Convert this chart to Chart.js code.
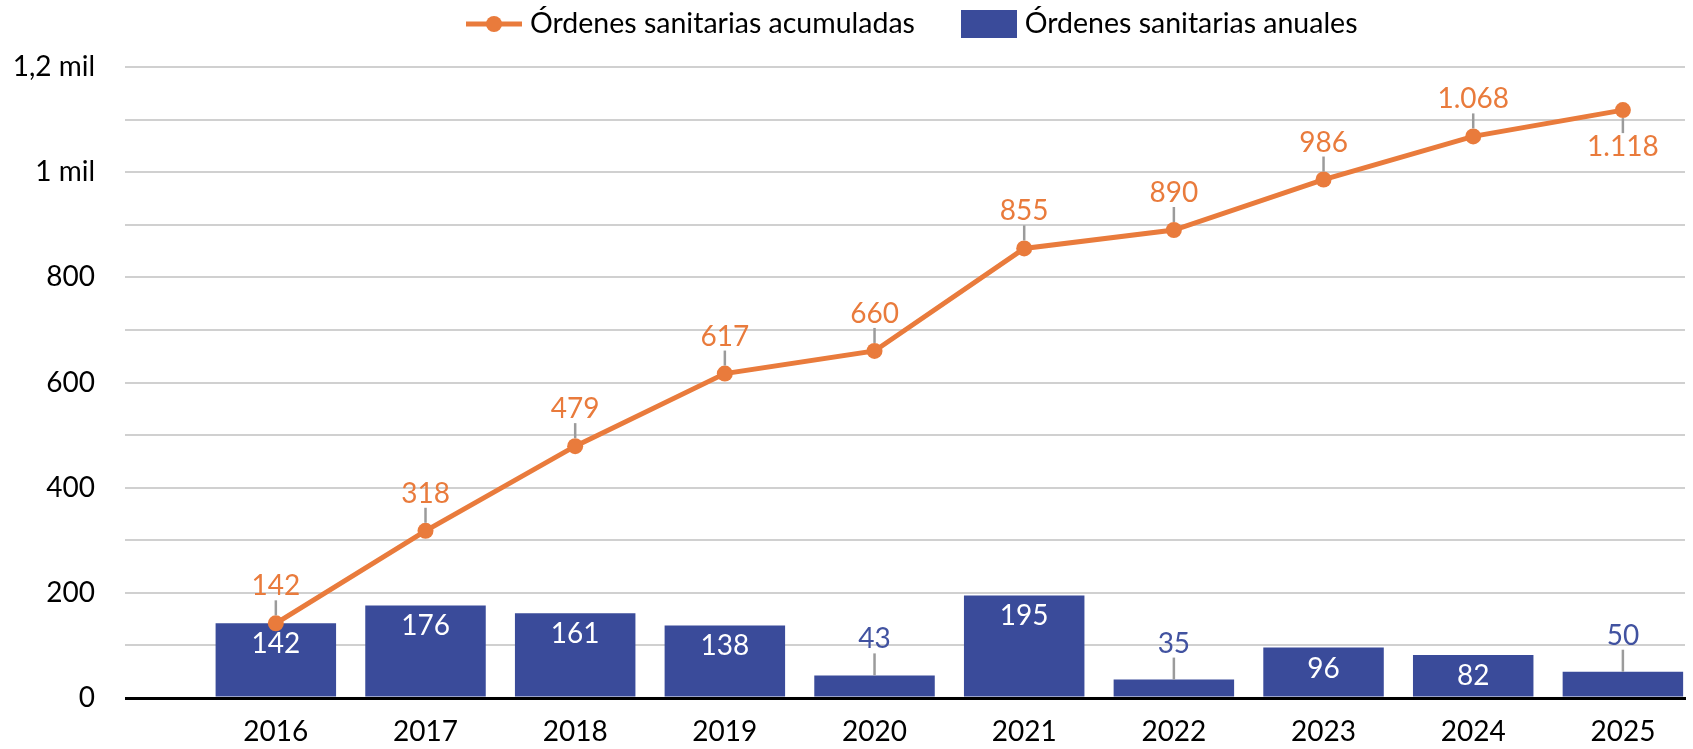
<!DOCTYPE html>
<html lang="es">
<head>
<meta charset="utf-8">
<title>Órdenes sanitarias</title>
<script src="https://cdn.jsdelivr.net/npm/chart.js@4.4.1/dist/chart.umd.min.js"></script>
<style>
  html, body { margin: 0; padding: 0; background: #fff; overflow: hidden; }
  canvas { display: block; }
</style>
</head>
<body>
<canvas id="chart" width="1693" height="749"></canvas>
<script>
'use strict';

// datos
const years = ['2016', '2017', '2018', '2019', '2020', '2021', '2022', '2023', '2024', '2025'];
const anuales = [142, 176, 161, 138, 43, 195, 35, 96, 82, 50];
const acumuladas = [142, 318, 479, 617, 660, 855, 890, 986, 1068, 1118];
const yTickValues = [0, 200, 400, 600, 800, 1000, 1200];
const yTickLabels = ['0', '200', '400', '600', '800', '1 mil', '1,2 mil'];

const naranja = '#E97B3C';
const azul = '#3A4B9A';
const guia = '#9B9B9B';

Chart.defaults.font.family = 'Lato';
Chart.defaults.font.size = 28;

// 1068 -> "1.068"
function fmt(n) {
  return String(n).replace(/\B(?=(\d{3})+(?!\d))/g, '.');
}

// little images for the legend keys
function lineKey() {
  let c = document.createElement('canvas');
  c.width = 56; c.height = 18;
  let g = c.getContext('2d');
  g.strokeStyle = naranja; g.lineWidth = 5;
  g.beginPath(); g.moveTo(0, 9); g.lineTo(56, 9); g.stroke();
  g.fillStyle = naranja;
  g.beginPath(); g.arc(28, 9, 8, 0, Math.PI * 2); g.fill();
  return c;
}
function barKey() {
  let c = document.createElement('canvas');
  c.width = 56; c.height = 28;
  let g = c.getContext('2d');
  g.fillStyle = azul;
  g.fillRect(0, 0, 56, 28);
  return c;
}

// legend: key box narrower than the 56px image, image centred in it
const legFont = 28.5;
const legPad = 52;
const keyBox = 72 - legFont;

const ajustes = {
  id: 'ajustes',
  beforeInit(chart) {
    const fit = chart.legend.fit;
    chart.legend.fit = function() {
      fit.call(this);
      this.height = 67;
    };
  },
  afterLayout(chart) {
    chart.legend.left = 466 + (56 - keyBox) / 2 - legPad;
    chart.legend.top = 24 - legFont / 2 - legPad;
  }
};

// value labels with the small grey leader lines
const etiquetas = {
  id: 'etiquetas',
  afterDatasetsDraw(chart) {
    const ctx = chart.ctx;
    ctx.save();
    ctx.font = '28px Lato';
    ctx.textAlign = 'center';
    ctx.textBaseline = 'middle';
    ctx.lineWidth = 2.5;
    ctx.strokeStyle = guia;

    function leader(x, y1, y2) {
      ctx.beginPath();
      ctx.moveTo(x, y1);
      ctx.lineTo(x, y2);
      ctx.stroke();
    }

    let lineMeta = chart.getDatasetMeta(0);
    lineMeta.data.forEach(function(pt, i) {
      let dir = i === lineMeta.data.length - 1 ? 1 : -1;
      leader(pt.x, pt.y + dir * 8, pt.y + dir * 23);
      ctx.fillStyle = naranja;
      ctx.fillText(fmt(acumuladas[i]), pt.x, pt.y + dir * 37);
    });

    let barMeta = chart.getDatasetMeta(1);
    barMeta.data.forEach(function(bar, i) {
      let h = bar.base - bar.y;
      if (h > 35) {
        ctx.fillStyle = '#fff';
        ctx.fillText(fmt(anuales[i]), bar.x, bar.y + 21);
      } else {
        leader(bar.x, bar.y, bar.y - 22);
        ctx.fillStyle = '#4152A0';
        ctx.fillText(fmt(anuales[i]), bar.x, bar.y - 36);
      }
    });
    ctx.restore();
  }
};

function isZero(c) {
  return c.tick && c.tick.value === 0;
}

new Chart(document.getElementById('chart'), {
  type: 'bar',
  data: {
    labels: years,
    datasets: [
      {
        type: 'line',
        label: 'Órdenes sanitarias acumuladas',
        data: acumuladas,
        borderColor: naranja,
        backgroundColor: naranja,
        borderWidth: 5,
        pointRadius: 8,
        pointBackgroundColor: naranja,
        pointBorderWidth: 0,
        tension: 0,
        order: 0
      },
      {
        label: 'Órdenes sanitarias anuales',
        data: anuales,
        backgroundColor: azul,
        barPercentage: 0.805,
        categoryPercentage: 1,
        order: 1
      }
    ]
  },
  options: {
    responsive: false,
    animation: false,
    events: [],
    layout: { padding: 0 },
    plugins: {
      tooltip: { enabled: false },
      legend: {
        position: 'top',
        align: 'start',
        labels: {
          color: '#000',
          font: { size: legFont },
          usePointStyle: true,
          pointStyleWidth: keyBox,
          boxHeight: legFont,
          padding: legPad,
          generateLabels: function() {
            return [
              { text: 'Órdenes sanitarias acumuladas', pointStyle: lineKey(), fillStyle: naranja, strokeStyle: naranja, lineWidth: 0, hidden: false, datasetIndex: 0 },
              { text: 'Órdenes sanitarias anuales', pointStyle: barKey(), fillStyle: azul, strokeStyle: azul, lineWidth: 0, hidden: false, datasetIndex: 1 }
            ];
          }
        }
      }
    },
    scales: {
      // years as numbers; the last year is cut by the right edge like in the original
      x: {
        type: 'linear',
        offset: false,
        min: 2015.5,
        max: 2025.415,
        z: 1,
        grid: { display: false, drawTicks: false },
        border: { display: true, color: '#000', width: 3 },
        ticks: {
          stepSize: 1,
          includeBounds: false,
          autoSkip: false,
          color: '#000',
          padding: 17,
          callback: function(v) {
            return years.indexOf(String(v)) >= 0 ? String(v) : '';
          }
        },
        afterFit: function(s) { s.height = 51; }
      },
      y: {
        min: 0,
        max: 1200,
        border: { display: false },
        grid: {
          color: c => isZero(c) ? '#000' : '#D0D0D0',
          lineWidth: c => isZero(c) ? 3 : 2,
          tickColor: c => isZero(c) ? '#000' : '#D0D0D0',
          tickWidth: c => isZero(c) ? 3 : 2,
          tickLength: 76
        },
        ticks: {
          stepSize: 100,
          autoSkip: false,
          color: '#000',
          padding: 30,
          callback: function(v) {
            let i = yTickValues.indexOf(v);
            return i >= 0 ? yTickLabels[i] : '';
          }
        },
        afterFit: function(s) { s.width = 201; }
      }
    }
  },
  plugins: [ajustes, etiquetas]
});
</script>
</body>
</html>
